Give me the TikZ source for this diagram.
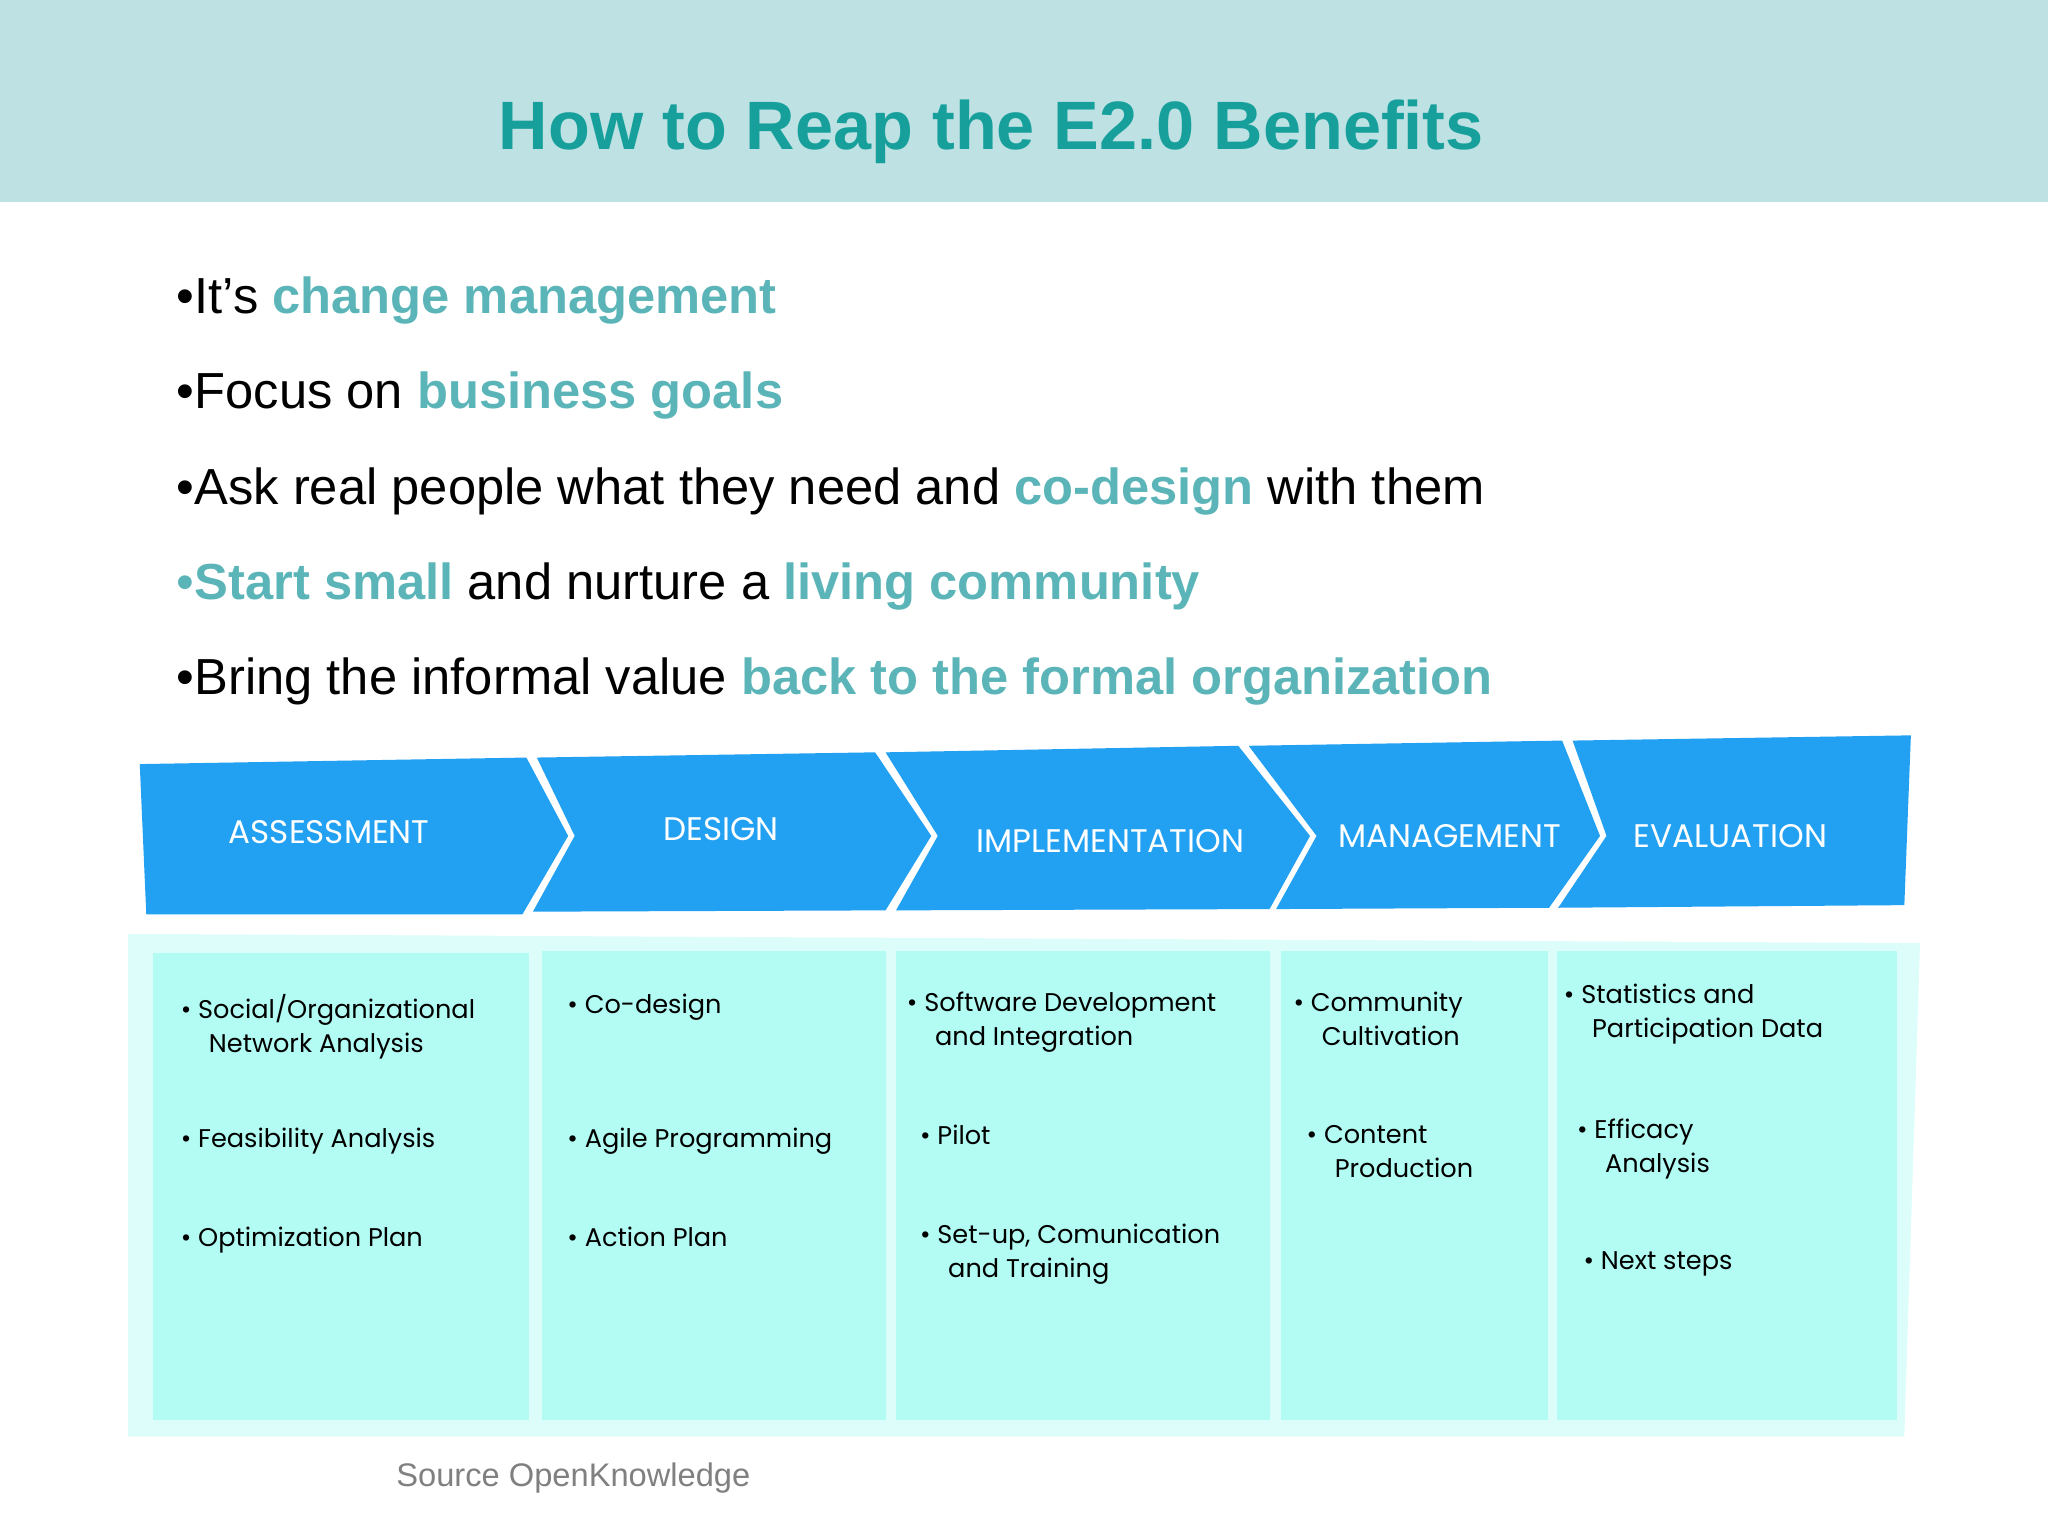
\documentclass[tikz,border=0pt]{standalone}
\usepackage{fontspec}
\setmainfont{Liberation Sans}
\newfontfamily\colfont{Poppins}
\definecolor{band}{HTML}{BEE1E4}
\definecolor{ttl}{HTML}{17A09B}
\definecolor{hl}{HTML}{5BB5B8}
\definecolor{chev}{HTML}{22A0F2}
\definecolor{boxc}{HTML}{B2FCF4}
\definecolor{boxo}{HTML}{DDFDFA}
\begin{document}
\begin{tikzpicture}[x=0.5pt,y=-0.5pt,
  bul/.style={anchor=west,font=\fontsize{19.4}{23}\selectfont,inner sep=0},
  hd/.style={font=\colfont\fontsize{12.5}{14}\selectfont,text=white},
  it/.style={anchor=north west,align=left,font=\colfont\fontsize{9.8}{13}\selectfont,inner sep=0}]
\useasboundingbox (0,0) rectangle (1568,1176);
\fill[band] (0,0) rectangle (1568,155);
\node[font=\fontsize{26.2}{30}\selectfont\bfseries,text=ttl] (title) at (759,101) {How to Reap the E2.0 Benefits};
\node[bul] (b1) at (135,230) {\textbullet It’s \textcolor{hl}{\bfseries change management}};
\node[bul] (b2) at (135,303) {\textbullet Focus on \textcolor{hl}{\bfseries business goals}};
\node[bul] (b3) at (135,376) {\textbullet Ask real people what they need and \textcolor{hl}{\bfseries co-design} with them};
\node[bul] (b4) at (135,449) {\textcolor{hl}{\textbullet\bfseries Start small} and nurture a \textcolor{hl}{\bfseries living community}};
\node[bul] (b5) at (135,522) {\textbullet Bring the informal value \textcolor{hl}{\bfseries back to the formal organization}};
% chevrons
\fill[chev] (107,585) -- (403,580) -- (435,640) -- (400,700) -- (112,700) -- cycle;
\fill[chev] (411,580) -- (670,576) -- (713,640) -- (678,697) -- (408,698) -- (440,640) -- cycle;
\fill[chev] (678,576) -- (948,571) -- (1003,640) -- (972,696) -- (686,697) -- (718,640) -- cycle;
\fill[chev] (956,571) -- (1196,567) -- (1225,640) -- (1186,695) -- (977,696) -- (1008,640) -- cycle;
\fill[chev] (1204,567) -- (1463,563) -- (1458,693) -- (1193,695) -- (1230,640) -- cycle;
\node[hd] (h1) at (252,637) {ASSESSMENT};
\node[hd] (h2) at (552,635) {DESIGN};
\node[hd] (h3) at (850,644) {IMPLEMENTATION};
\node[hd] (h4) at (1110,640) {MANAGEMENT};
\node[hd] (h5) at (1325,640) {EVALUATION};
% boxes
\fill[boxo] (98,715) -- (1470,722) -- (1458,1100) -- (98,1100) -- cycle;
\fill[boxc] (117,730) rectangle (405,1087);
\fill[boxc] (415,728) rectangle (678,1087);
\fill[boxc] (686,728) rectangle (972,1087);
\fill[boxc] (981,728) rectangle (1185,1087);
\fill[boxc] (1192,728) rectangle (1452,1087);
\node[it] (a1) at (138,761) {\textbullet\ Social/Organizational\\ \hspace*{1.1em}Network Analysis};
\node[it] (a2) at (138,863) {\textbullet\ Feasibility Analysis};
\node[it] (a3) at (138,939) {\textbullet\ Optimization Plan};
\node[it] (d1) at (434,761) {\textbullet\ Co-design};
\node[it] (d2) at (434,863) {\textbullet\ Agile Programming};
\node[it] (d3) at (434,939) {\textbullet\ Action Plan};
\node[it] (i1) at (694,759) {\textbullet\ Software Development\\ \hspace*{1.1em}and Integration};
\node[it] (i2) at (704,861) {\textbullet\ Pilot};
\node[it] (i3) at (704,937) {\textbullet\ Set-up, Comunication\\ \hspace*{1.1em}and Training};
\node[it] (m1) at (990,759) {\textbullet\ Community\\ \hspace*{1.1em}Cultivation};
\node[it] (m2) at (1000,861) {\textbullet\ Content\\ \hspace*{1.1em}Production};
\node[it] (e1) at (1197,753) {\textbullet\ Statistics and\\ \hspace*{1.1em}Participation Data};
\node[it] (e2) at (1207,856) {\textbullet\ Efficacy\\ \hspace*{1.1em}Analysis};
\node[it] (e3) at (1212,958) {\textbullet\ Next steps};
\node[font=\fontsize{12.5}{15}\selectfont,text=gray] (src) at (439,1132) {Source OpenKnowledge};
\end{tikzpicture}
\end{document}
